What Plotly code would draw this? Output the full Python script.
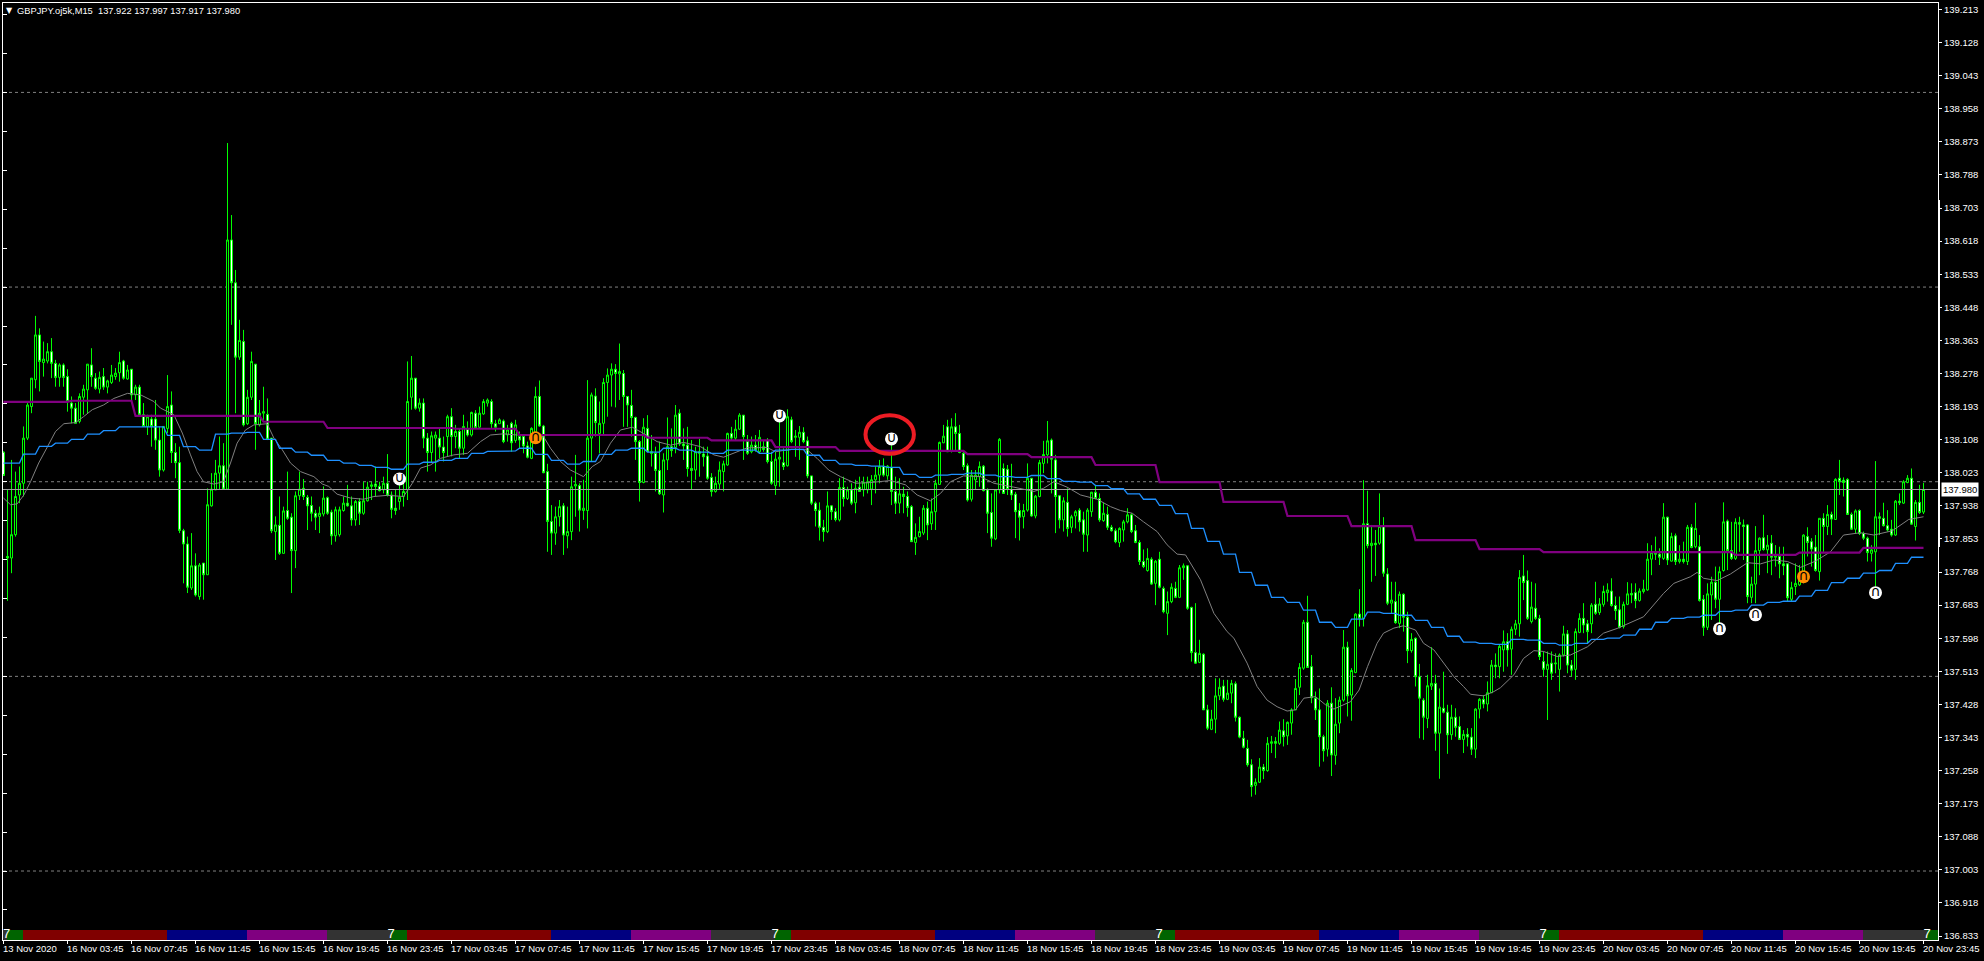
import plotly.graph_objects as go

# GBPJPY M15, 481 bars
opens = [
138.076,137.808,137.804,137.864,137.966,137.996,138.112,138.193,138.262,138.377,
138.306,138.310,138.334,138.304,138.268,138.300,138.270,138.202,138.189,138.155,
138.217,138.236,138.300,138.266,138.238,138.270,138.243,138.255,138.270,138.280,
138.310,138.264,138.289,138.223,138.243,138.172,138.142,138.161,138.161,138.107,
138.030,138.137,138.197,138.075,138.049,137.874,137.840,137.727,137.784,137.705,
137.791,137.761,137.938,137.979,138.022,138.041,137.981,138.621,138.511,138.320,
138.360,138.149,138.217,138.302,138.146,138.176,138.173,138.112,137.872,137.888,
137.816,137.926,137.909,137.823,137.964,137.983,137.960,137.939,137.919,137.911,
137.917,137.959,137.922,137.861,137.864,137.926,137.945,137.938,137.902,137.949,
137.919,137.951,137.988,137.994,137.988,137.979,137.996,137.966,137.932,137.949,
137.962,137.979,138.217,138.266,138.189,138.202,138.112,138.075,138.112,138.112,
138.089,138.116,138.167,138.116,138.129,138.086,138.135,138.120,138.176,138.140,
138.174,138.202,138.206,138.149,138.149,
# 125
138.156,138.120,138.150,138.106,138.116,138.116,138.092,138.060,138.112,138.219,
138.143,138.026,137.898,137.868,137.910,137.938,137.861,137.872,137.989,137.990,
137.926,137.926,138.112,138.220,138.124,138.150,138.255,138.274,138.289,138.277,
138.278,138.219,138.196,138.165,138.103,137.998,138.137,138.077,138.073,138.029,
137.966,138.056,138.090,138.088,138.176,138.097,138.094,138.034,138.030,138.077,
138.071,138.066,138.011,137.975,137.994,138.026,138.043,138.124,138.112,138.135,
138.171,138.103,138.077,138.094,138.077,138.090,138.106,138.052,137.990,138.058,
138.049,138.041,138.159,138.114,138.114,138.127,138.105,138.015,137.945,137.927,
137.883,137.872,137.938,137.923,137.902,137.985,137.957,137.979,137.946,137.986,
137.979,137.979,137.981,138.005,138.017,138.039,138.015,138.036,137.975,137.945,
137.968,137.962,137.936,137.844,137.859,137.868,137.932,137.892,137.923,137.993,
138.100,138.141,138.080,138.141,138.124,138.073,138.041,137.955,138.005,138.013,
138.040,137.979,137.921,137.853,137.979,
# 250
138.034,138.032,137.980,137.968,137.926,137.910,137.927,138.009,137.912,137.962,
138.047,138.069,138.107,138.056,137.964,137.902,137.947,137.883,137.912,137.927,
137.902,137.863,137.923,137.973,137.957,137.900,137.916,137.883,137.874,137.844,
137.876,137.897,137.915,137.874,137.844,137.795,137.772,137.801,137.739,137.801,
137.726,137.662,137.692,137.726,137.703,137.779,137.784,137.677,137.561,137.536,
137.557,137.414,137.364,137.390,137.450,137.475,137.441,137.457,137.481,137.395,
137.341,137.315,137.273,137.220,137.228,137.267,137.258,137.328,137.333,137.328,
137.360,137.347,137.380,137.414,137.472,137.521,137.639,137.525,137.444,137.414,
137.345,137.313,137.431,137.297,137.380,137.439,137.575,137.452,137.510,137.660,
137.648,137.892,137.836,137.842,137.842,137.885,137.763,137.688,137.692,137.636,
137.711,137.652,137.566,137.598,137.499,137.439,137.392,137.475,137.482,137.354,
137.418,137.408,137.350,137.395,137.371,137.338,137.351,137.344,137.313,137.416,
137.441,137.429,137.458,137.529,137.525,
# 375
137.568,137.589,137.570,137.621,137.635,137.758,137.746,137.641,137.675,137.649,
137.538,137.518,137.534,137.532,137.518,137.555,137.609,137.529,137.518,137.613,
137.649,137.635,137.635,137.685,137.664,137.685,137.715,137.719,137.682,137.671,
137.628,137.685,137.713,137.715,137.695,137.718,137.722,137.801,137.818,137.814,
137.803,137.909,137.796,137.861,137.795,137.801,137.795,137.883,137.833,137.833,
137.698,137.626,137.709,137.742,137.698,137.772,137.899,137.823,137.803,137.895,
137.889,137.889,137.703,137.737,137.823,137.856,137.825,137.842,137.806,137.808,
137.789,137.789,137.698,137.731,137.735,137.760,137.859,137.846,137.832,137.769,
137.906,137.885,137.916,137.903,138.009,138.004,138.006,137.916,137.878,137.926,
137.867,137.855,137.816,137.820,137.910,137.906,137.887,137.878,137.863,137.950,
137.945,137.998,138.009,137.885,137.947,137.922]
highs = [
138.078,137.979,138.056,138.026,138.039,138.142,138.202,138.266,138.426,138.394,
138.360,138.356,138.369,138.313,138.304,138.304,138.289,138.219,138.202,138.227,
138.249,138.302,138.343,138.279,138.283,138.292,138.262,138.300,138.292,138.334,
138.313,138.300,138.289,138.249,138.249,138.202,138.172,138.172,138.210,138.142,
138.142,138.274,138.232,138.099,138.090,137.879,137.859,137.868,137.816,137.791,
137.791,137.983,138.022,138.056,138.116,138.099,138.870,138.685,138.544,138.416,
138.390,138.236,138.334,138.302,138.210,138.244,138.214,138.112,137.911,137.962,
137.936,138.026,137.919,137.975,138.026,138.007,137.966,137.962,137.928,137.936,
137.988,137.962,137.928,137.936,137.936,137.962,137.992,137.962,137.953,137.958,
138.000,138.000,138.000,138.039,138.000,138.013,138.071,137.975,137.979,138.000,
138.000,138.309,138.323,138.266,138.214,138.214,138.125,138.129,138.129,138.137,
138.116,138.172,138.189,138.146,138.137,138.172,138.155,138.180,138.184,138.193,
138.212,138.214,138.212,138.159,138.163,
# 125
138.160,138.146,138.154,138.159,138.129,138.120,138.103,138.140,138.244,138.260,
138.146,138.046,137.940,137.936,137.953,137.945,137.936,138.013,138.069,137.996,
138.005,138.261,138.229,138.240,138.206,138.266,138.291,138.304,138.302,138.355,
138.287,138.219,138.236,138.167,138.107,138.163,138.171,138.120,138.090,138.103,
138.073,138.165,138.137,138.197,138.186,138.137,138.141,138.107,138.090,138.110,
138.090,138.090,138.022,138.013,138.052,138.054,138.126,138.141,138.159,138.176,
138.171,138.120,138.116,138.120,138.133,138.107,138.112,138.077,138.077,138.154,
138.086,138.186,138.167,138.133,138.143,138.140,138.116,138.015,137.949,137.947,
137.902,137.975,137.940,137.932,138.009,138.013,137.987,137.996,138.005,138.013,
138.013,138.013,138.017,138.039,138.056,138.060,138.043,138.094,138.013,138.009,
137.987,137.975,137.940,137.893,137.910,137.940,137.949,137.957,138.005,138.103,
138.146,138.159,138.163,138.176,138.146,138.077,138.047,138.030,138.030,138.052,
138.043,137.983,137.970,137.979,138.112,
# 250
138.047,138.043,138.046,137.974,137.945,137.943,138.047,138.009,137.966,138.056,
138.105,138.156,138.111,138.069,137.966,137.960,137.983,137.915,137.927,137.932,
137.923,137.932,137.974,137.992,137.970,137.946,137.936,137.889,137.880,137.883,
137.902,137.932,137.919,137.889,137.850,137.826,137.829,137.806,137.799,137.820,
137.731,137.718,137.739,137.743,137.786,137.790,137.786,137.679,137.688,137.594,
137.559,137.427,137.414,137.495,137.495,137.491,137.491,137.491,137.487,137.397,
137.360,137.337,137.287,137.238,137.290,137.275,137.344,137.347,137.344,137.384,
137.390,137.384,137.418,137.493,137.534,137.645,137.707,137.555,137.461,137.469,
137.350,137.439,137.472,137.444,137.448,137.619,137.589,137.521,137.662,137.724,
138.004,137.977,137.889,137.876,137.970,137.909,137.778,137.743,137.743,137.718,
137.713,137.666,137.611,137.600,137.532,137.444,137.504,137.575,137.504,137.469,
137.512,137.427,137.427,137.418,137.397,137.362,137.367,137.367,137.418,137.444,
137.452,137.487,137.542,137.559,137.581,
# 375
137.618,137.611,137.628,137.645,137.773,137.812,137.772,137.743,137.739,137.658,
137.564,137.564,137.564,137.559,137.559,137.630,137.619,137.542,137.623,137.662,
137.688,137.645,137.688,137.743,137.701,137.733,137.739,137.752,137.705,137.705,
137.692,137.742,137.739,137.739,137.726,137.748,137.842,137.837,137.859,137.829,
137.945,137.910,137.869,137.867,137.837,137.846,137.889,137.891,137.946,137.863,
137.709,137.739,137.756,137.782,137.782,137.947,137.903,137.897,137.906,137.910,
137.903,137.891,137.756,137.886,137.857,137.915,137.863,137.863,137.837,137.833,
137.833,137.790,137.743,137.790,137.786,137.865,137.883,137.855,137.863,137.906,
137.919,137.940,137.923,138.009,138.056,138.011,138.009,137.921,137.929,137.929,
137.872,137.859,137.837,138.053,137.921,137.946,137.927,137.902,137.953,137.970,
138.004,138.017,138.034,137.953,137.992,137.997]
lows = [
138.016,137.694,137.765,137.859,137.945,137.962,138.107,138.176,138.240,138.232,
138.270,138.304,138.266,138.244,138.244,138.244,138.180,138.150,138.150,138.150,
138.172,138.176,138.244,138.236,138.227,138.236,138.227,138.251,138.262,138.257,
138.262,138.262,138.210,138.210,138.167,138.142,138.120,138.090,138.082,138.013,
138.026,138.125,138.048,138.009,137.868,137.739,137.714,137.722,137.705,137.697,
137.697,137.761,137.936,137.979,137.979,137.979,137.979,138.403,138.176,138.313,
138.142,138.146,138.210,138.082,138.142,138.159,138.107,137.868,137.799,137.812,
137.816,137.902,137.714,137.778,137.953,137.953,137.876,137.898,137.876,137.868,
137.911,137.915,137.838,137.846,137.859,137.923,137.936,137.887,137.887,137.889,
137.915,137.949,137.953,137.962,137.975,137.970,137.962,137.906,137.915,137.928,
137.936,137.953,138.185,138.185,138.180,138.086,138.026,138.048,138.026,138.060,
138.052,138.065,138.065,138.086,138.060,138.069,138.116,138.116,138.137,138.137,
138.172,138.193,138.137,138.129,138.149,
# 125
138.099,138.103,138.077,138.100,138.086,138.073,138.060,138.058,138.099,138.141,
138.022,137.820,137.812,137.838,137.885,137.812,137.829,137.850,137.910,137.872,
137.902,137.880,138.052,138.116,138.073,138.120,138.167,138.193,138.191,138.210,
138.141,138.141,138.116,138.056,137.949,137.996,138.077,138.039,137.975,137.966,
137.921,138.030,138.064,138.073,138.092,138.056,138.013,137.981,138.005,138.013,
138.039,138.005,137.962,137.972,137.979,137.975,138.041,138.107,138.107,138.133,
138.056,138.069,138.073,138.077,138.073,138.077,138.047,137.992,137.966,137.987,
138.030,138.039,138.099,138.064,138.056,138.099,138.009,137.940,137.885,137.849,
137.846,137.868,137.902,137.898,137.898,137.936,137.953,137.940,137.919,137.975,
137.962,137.970,137.940,137.970,137.996,138.013,138.005,137.940,137.917,137.919,
137.919,137.910,137.846,137.812,137.857,137.863,137.850,137.876,137.876,137.992,
138.099,138.077,138.075,138.077,138.073,138.030,137.949,137.949,137.979,137.987,
137.975,137.868,137.833,137.850,137.970,
# 250
137.970,137.966,137.953,137.855,137.849,137.880,137.923,137.910,137.906,137.960,
138.022,138.047,137.970,137.868,137.880,137.872,137.859,137.868,137.880,137.872,
137.820,137.820,137.910,137.955,137.897,137.897,137.876,137.872,137.842,137.832,
137.846,137.893,137.868,137.842,137.786,137.778,137.769,137.735,137.683,137.726,
137.662,137.606,137.688,137.701,137.701,137.748,137.671,137.538,137.532,137.534,
137.414,137.362,137.362,137.354,137.439,137.435,137.439,137.431,137.384,137.341,
137.315,137.268,137.191,137.196,137.226,137.236,137.255,137.303,137.290,137.324,
137.320,137.324,137.350,137.414,137.452,137.517,137.523,137.431,137.388,137.268,
137.281,137.294,137.244,137.273,137.354,137.435,137.397,137.386,137.508,137.628,
137.628,137.829,137.743,137.758,137.838,137.756,137.683,137.662,137.635,137.624,
137.615,137.534,137.561,137.474,137.341,137.337,137.367,137.465,137.309,137.237,
137.405,137.301,137.337,137.345,137.337,137.303,137.320,137.298,137.290,137.392,
137.418,137.410,137.457,137.495,137.495,
# 375
137.512,137.525,137.504,137.606,137.602,137.696,137.645,137.636,137.645,137.542,
137.499,137.388,137.491,137.508,137.461,137.551,137.508,137.499,137.491,137.611,
137.611,137.585,137.611,137.658,137.658,137.679,137.692,137.679,137.645,137.623,
137.623,137.683,137.688,137.675,137.692,137.713,137.720,137.760,137.799,137.786,
137.799,137.786,137.795,137.786,137.790,137.790,137.786,137.829,137.829,137.692,
137.604,137.619,137.645,137.675,137.628,137.769,137.773,137.799,137.799,137.820,
137.799,137.688,137.688,137.688,137.760,137.823,137.765,137.760,137.782,137.752,
137.760,137.692,137.692,137.709,137.732,137.739,137.808,137.782,137.769,137.746,
137.820,137.863,137.863,137.902,137.966,137.962,137.915,137.876,137.867,137.863,
137.850,137.795,137.795,137.731,137.863,137.885,137.872,137.859,137.861,137.940,
137.943,137.996,137.889,137.849,137.917,137.917]
closes = [
138.016,137.804,137.864,137.962,137.996,138.112,138.197,138.266,138.377,138.309,
138.315,138.334,138.304,138.268,138.300,138.268,138.206,138.189,138.150,138.219,
138.238,138.302,138.270,138.240,138.268,138.243,138.259,138.274,138.279,138.306,
138.266,138.287,138.223,138.243,138.172,138.142,138.167,138.142,138.107,138.030,
138.142,138.193,138.075,138.049,137.875,137.840,137.729,137.784,137.709,137.786,
137.761,137.941,137.981,138.022,138.041,137.981,138.621,138.511,138.320,138.363,
138.146,138.217,138.309,138.149,138.176,138.180,138.109,137.874,137.889,137.816,
137.925,137.906,137.823,137.964,137.981,137.962,137.938,137.919,137.909,137.919,
137.958,137.919,137.861,137.928,137.928,137.945,137.938,137.902,137.949,137.919,
137.951,137.986,137.992,137.988,137.977,137.996,137.966,137.929,137.926,137.960,
137.975,138.206,138.266,138.189,138.202,138.112,138.075,138.118,138.120,138.089,
138.075,138.167,138.116,138.129,138.086,138.142,138.120,138.178,138.139,138.176,
138.206,138.210,138.149,138.140,138.159,
# 125
138.103,138.133,138.100,138.146,138.107,138.092,138.063,138.137,138.219,138.143,
138.023,137.898,137.868,137.910,137.936,137.863,137.872,137.987,137.993,137.927,
137.932,138.112,138.223,138.152,138.150,138.255,138.274,138.289,138.278,138.283,
138.219,138.197,138.165,138.103,137.998,138.140,138.077,138.073,138.029,137.969,
138.056,138.090,138.080,138.171,138.097,138.092,138.034,138.029,138.077,138.073,
138.064,138.009,137.975,137.996,138.030,138.046,138.124,138.112,138.135,138.171,
138.116,138.073,138.094,138.082,138.114,138.083,138.052,137.996,138.058,138.063,
138.039,138.167,138.103,138.117,138.127,138.103,138.015,137.945,137.926,137.883,
137.872,137.938,137.923,137.903,137.985,137.957,137.979,137.945,137.983,137.975,
137.999,138.000,138.005,138.017,138.039,138.017,138.040,137.975,137.945,137.969,
137.962,137.934,137.846,137.857,137.872,137.932,137.889,137.923,137.996,138.101,
138.117,138.077,138.141,138.124,138.075,138.039,137.953,138.017,138.017,138.039,
137.977,137.919,137.855,137.979,138.109,
# 250
137.970,137.980,137.966,137.923,137.909,137.926,138.009,137.912,137.963,138.049,
138.070,138.105,138.058,137.962,137.902,137.951,137.880,137.910,137.923,137.897,
137.865,137.927,137.973,137.957,137.902,137.919,137.883,137.874,137.846,137.880,
137.897,137.915,137.872,137.844,137.795,137.782,137.803,137.737,137.796,137.729,
137.666,137.692,137.729,137.703,137.779,137.784,137.675,137.561,137.534,137.559,
137.414,137.367,137.390,137.450,137.472,137.441,137.457,137.482,137.395,137.344,
137.318,137.273,137.217,137.228,137.267,137.258,137.328,137.332,137.328,137.362,
137.345,137.382,137.414,137.469,137.523,137.639,137.523,137.445,137.414,137.345,
137.309,137.431,137.298,137.377,137.439,137.575,137.450,137.515,137.660,137.649,
137.892,137.836,137.842,137.838,137.885,137.765,137.688,137.696,137.638,137.711,
137.652,137.566,137.595,137.499,137.444,137.395,137.476,137.482,137.354,137.421,
137.408,137.350,137.395,137.369,137.338,137.351,137.344,137.313,137.416,137.441,
137.429,137.458,137.529,137.525,137.577,
# 375
137.589,137.568,137.621,137.635,137.754,137.741,137.649,137.678,137.649,137.551,
137.518,137.531,137.508,137.534,137.555,137.609,137.529,137.516,137.615,137.649,
137.632,137.615,137.683,137.662,137.686,137.718,137.722,137.682,137.669,137.626,
137.685,137.712,137.709,137.695,137.719,137.724,137.801,137.818,137.814,137.806,
137.909,137.799,137.859,137.795,137.801,137.795,137.883,137.831,137.880,137.695,
137.626,137.712,137.742,137.698,137.769,137.897,137.823,137.803,137.896,137.891,
137.885,137.705,137.737,137.823,137.855,137.826,137.837,137.806,137.809,137.789,
137.784,137.702,137.728,137.739,137.759,137.863,137.844,137.827,137.772,137.906,
137.885,137.916,137.904,138.006,138.000,137.998,137.916,137.878,137.925,137.867,
137.855,137.818,137.825,137.910,137.906,137.887,137.876,137.863,137.950,137.946,
138.000,138.009,137.891,137.947,137.921,137.980]

level_lines = [139.0, 138.5, 138.0, 137.5, 137.0]
last_price = 137.98

# stepped bands: one level per 16 bars and one per 4 bars
purple_levels = [138.205, 138.208, 138.169, 138.169, 138.154, 138.138, 138.138, 138.136,
                 138.120, 138.120, 138.113, 138.106, 138.089, 138.079, 138.079, 138.071,
                 138.063, 138.043, 137.999, 137.948, 137.912, 137.886, 137.850, 137.827,
                 137.819, 137.819, 137.819, 137.812, 137.818, 137.830]
blue_levels = [138.048, 138.071, 138.091, 138.099, 138.109, 138.122, 138.131, 138.141,
               138.141, 138.141, 138.119, 138.090, 138.081, 138.122, 138.125, 138.127,
               138.109, 138.086, 138.076, 138.068, 138.055, 138.048, 138.042, 138.037,
               138.032, 138.045, 138.050, 138.055, 138.060, 138.073, 138.078,
               138.079, 138.086, 138.070, 138.055, 138.045, 138.052, 138.070, 138.081,
               138.086, 138.076, 138.086, 138.081, 138.076, 138.073, 138.081, 138.081,
               138.073, 138.081, 138.083, 138.068, 138.055, 138.045, 138.042, 138.040,
               138.037, 138.019, 138.011, 138.017, 138.019, 138.022, 138.017,
               138.013, 138.011, 138.016, 138.008, 138.001, 137.999, 137.990, 137.982,
               137.969, 137.955, 137.939, 137.918, 137.880, 137.847, 137.814, 137.767,
               137.734, 137.703, 137.690, 137.670, 137.639, 137.626, 137.647, 137.665,
               137.662, 137.657, 137.644, 137.626, 137.603, 137.588, 137.585, 137.582,
               137.595, 137.593, 137.585, 137.580, 137.585, 137.595, 137.598, 137.606,
               137.621, 137.639, 137.649, 137.652, 137.657, 137.667, 137.670, 137.683,
               137.690, 137.693, 137.706, 137.721, 137.741, 137.752, 137.765, 137.772,
               137.790, 137.806]

# slow moving average, read at the bends
ma_bars = [0, 1.75, 3.4, 5.1, 6.75, 8.8, 11, 13, 15.1, 18, 20, 22.2, 25, 27.6, 31, 34.3, 37.6, 39.25,
           42.6, 44.7, 46.75, 48.4, 50, 52.6, 55, 56.75, 58.4, 60.5, 62.6, 65.9, 67.6, 69.7, 71.75,
           74.25, 77.6, 79.7, 81.3, 83.4, 86.75, 90, 92.6, 96, 100, 102.2, 104.25, 106.75, 109.25,
           112.6, 116, 119.25, 121.75, 125, 128.4, 132.6, 135, 136.75, 139.25, 141.75, 145, 147.2,
           149.25, 151.75, 154.25, 157.2, 160, 163.4, 166.75, 170, 174.25, 177.6, 180, 182.6, 185.9,
           190.9, 193, 196.75, 200.9, 203.4, 206.3, 209.25, 213, 216.75, 221.75, 225.5, 228.4, 231.75,
           234.25, 236.75, 240, 244.25, 247.6, 252.6, 257.6, 260, 262.6, 265.9, 269.25, 273.4, 276.75,
           279.25, 282.2, 285, 288.4, 290.9, 293.4, 295.5, 299.25, 302.6, 305.9, 307.6, 310.9, 313.4,
           315.9, 318.4, 320.9, 323, 325.1, 328, 330.5, 332.6, 336.75, 338.9, 341, 343.4, 345, 347.6,
           350, 353, 355, 357.6, 360, 362.6, 365, 366.75, 370, 372.6, 374.25, 377.6, 380, 382.6, 385,
           388.4, 391.75, 396, 400, 403.4, 410, 415, 417.6, 421.75, 423.4, 425, 428.4, 431.75, 436,
           439.25, 442.6, 446, 449.25, 453, 456.75, 460, 464.25, 467.6, 472.2, 476.3, 480]
ma_prices = [137.958, 137.941, 137.943, 137.966, 138.000, 138.048, 138.090, 138.129, 138.149, 138.152,
             138.167, 138.185, 138.197, 138.214, 138.227, 138.223, 138.206, 138.189, 138.172, 138.125,
             138.069, 138.026, 138.000, 137.994, 138.000, 138.048, 138.099, 138.133, 138.146, 138.149,
             138.112, 138.082, 138.048, 138.026, 138.013, 137.994, 137.988, 137.968, 137.958, 137.955,
             137.962, 137.965, 137.962, 137.996, 138.035, 138.043, 138.060, 138.069, 138.073, 138.103,
             138.120, 138.123, 138.120, 138.120, 138.116, 138.086, 138.052, 138.030, 138.013, 138.039,
             138.052, 138.099, 138.133, 138.140, 138.124, 138.103, 138.094, 138.101, 138.090, 138.069,
             138.063, 138.073, 138.087, 138.088, 138.077, 138.083, 138.082, 138.060, 138.030, 138.013,
             137.996, 137.998, 138.003, 137.992, 137.966, 137.951, 137.970, 138.000, 138.015, 138.013,
             137.996, 137.986, 137.975, 137.983, 138.000, 137.986, 137.966, 137.955, 137.936, 137.926,
             137.919, 137.897, 137.872, 137.838, 137.814, 137.812, 137.748, 137.662, 137.615, 137.598,
             137.534, 137.474, 137.439, 137.422, 137.411, 137.414, 137.444, 137.448, 137.427, 137.416,
             137.435, 137.465, 137.525, 137.585, 137.611, 137.624, 137.630, 137.619, 137.585, 137.568,
             137.534, 137.499, 137.474, 137.454, 137.450, 137.461, 137.471, 137.504, 137.546, 137.566,
             137.564, 137.551, 137.555, 137.576, 137.611, 137.623, 137.653, 137.713, 137.739, 137.756,
             137.767, 137.752, 137.746, 137.763, 137.792, 137.789, 137.799, 137.795, 137.780, 137.796,
             137.820, 137.863, 137.869, 137.863, 137.874, 137.903, 137.910]

# arrow signals on the chart
white_down_bars = [99, 194, 222]
white_down_prices = [138.007, 138.169, 138.110]
white_up_bars = [429, 438, 468]
white_up_prices = [137.622, 137.658, 137.715]
orange_bars = [133, 450]
orange_prices = [138.113, 137.756]

# session strip along the bottom
session_edges = [-0.1, 0.9, 4.9, 40.9, 60.9, 80.9, 96.9, 100.9, 136.9, 156.9, 176.9, 192.9, 196.9,
                 232.9, 252.9, 272.9, 288.9, 292.9, 328.9, 348.9, 368.9, 384.9, 388.9, 424.9,
                 444.9, 464.9, 480.9, 483.7]
session_colors = ["#333333", "#006400", "#800000", "#000080", "#800080"] * 5 + ["#333333", "#006400"]
seven_bars = [0.8, 96.9, 192.9, 288.9, 384.9, 480.9]

tick_bars = list(range(0, 481, 16))
tick_labels = ["13 Nov 2020",
               "16 Nov 03:45", "16 Nov 07:45", "16 Nov 11:45", "16 Nov 15:45", "16 Nov 19:45", "16 Nov 23:45",
               "17 Nov 03:45", "17 Nov 07:45", "17 Nov 11:45", "17 Nov 15:45", "17 Nov 19:45", "17 Nov 23:45",
               "18 Nov 03:45", "18 Nov 07:45", "18 Nov 11:45", "18 Nov 15:45", "18 Nov 19:45", "18 Nov 23:45",
               "19 Nov 03:45", "19 Nov 07:45", "19 Nov 11:45", "19 Nov 15:45", "19 Nov 19:45", "19 Nov 23:45",
               "20 Nov 03:45", "20 Nov 07:45", "20 Nov 11:45", "20 Nov 15:45", "20 Nov 19:45", "20 Nov 23:45"]
price_ticks = [139.213, 139.128, 139.043, 138.958, 138.873, 138.788, 138.703, 138.618, 138.533, 138.448,
               138.363, 138.278, 138.193, 138.108, 138.023, 137.938, 137.853, 137.768, 137.683, 137.598,
               137.513, 137.428, 137.343, 137.258, 137.173, 137.088, 137.003, 136.918, 136.833]
left_ticks = [139.2, 139.1, 139.0, 138.9, 138.8, 138.7, 138.6, 138.5, 138.4, 138.3, 138.2, 138.1, 138.0,
              137.9, 137.8, 137.7, 137.6, 137.5, 137.4, 137.3, 137.2, 137.1, 137.0, 136.9]

W, H = 1984, 961
M_L, M_R, M_T, M_B = 3, 46, 3, 21
PLOT_W, PLOT_H = W - M_L - M_R, H - M_T - M_B
Y_TOP, Y_BOT = 139.2297, 136.8228
# 4 px per bar, with the wicks landing on whole pixel columns
X_MIN, X_MAX = -0.125, 483.625
FONT = "Liberation Sans"
LIME = "#00FF00"

bars = list(range(len(closes)))
purple = [purple_levels[max(i - 1, 0) // 16] for i in bars]
blue = [blue_levels[max(i - 1, 0) // 4] for i in bars]

fig = go.Figure()

fig.add_trace(go.Bar(
    x=[(a + b) / 2 for a, b in zip(session_edges[:-1], session_edges[1:])],
    width=[b - a for a, b in zip(session_edges[:-1], session_edges[1:])],
    y=[0.0257] * len(session_colors),
    base=Y_BOT,
    marker=dict(color=session_colors, line=dict(width=0)),
    hoverinfo="skip",
))

fig.add_trace(go.Candlestick(
    x=bars, open=opens, high=highs, low=lows, close=closes,
    increasing=dict(line=dict(color=LIME, width=1), fillcolor="#000000"),
    decreasing=dict(line=dict(color=LIME, width=1), fillcolor="#FFFFFF"),
    whiskerwidth=0,
    line=dict(width=1),
))

fig.add_trace(go.Scatter(x=[X_MIN, X_MAX], y=[last_price, last_price], mode="lines",
                         line=dict(color="#A0A0A0", width=1), hoverinfo="skip"))
fig.add_trace(go.Scatter(x=ma_bars, y=ma_prices, mode="lines", line=dict(color="#808080", width=1)))
fig.add_trace(go.Scatter(x=bars, y=blue, mode="lines", line=dict(color="#1E90FF", width=1.3)))
fig.add_trace(go.Scatter(x=bars, y=purple, mode="lines", line=dict(color="#800080", width=2.2)))

# signal discs, glyph drawn on top of the disc
for xs, ys, disc, glyph in [(white_down_bars, white_down_prices, "#FFFFFF", "∪"),
                            (white_up_bars, white_up_prices, "#FFFFFF", "∩"),
                            (orange_bars, orange_prices, "#FF8C00", "∩")]:
    fig.add_trace(go.Scatter(
        x=xs, y=ys, mode="markers+text", text=[glyph] * len(xs), textposition="middle center",
        textfont=dict(family="DejaVu Sans", size=14, color="#000000"),
        marker=dict(color=disc, size=13, line=dict(width=0)),
    ))

fig.add_trace(go.Scatter(
    x=seven_bars, y=[136.836] * len(seven_bars), mode="text", text=["7"] * len(seven_bars),
    textposition="middle center", textfont=dict(family=FONT, size=13, color="#FFFFFF"),
))

# dashed round-number levels
for lvl in level_lines:
    fig.add_shape(type="line", xref="paper", yref="y", x0=0, x1=1, y0=lvl, y1=lvl, layer="below",
                  line=dict(color="#808080", width=1, dash="3px,3px"))

# hand drawn red ellipse round the signal
fig.add_shape(type="circle", xref="x", yref="y", x0=215.5, x1=227.6, y0=138.072, y1=138.1706,
              line=dict(color="#ED1C24", width=4))

# thick stretch of the right border
fig.add_shape(type="rect", xref="paper", yref="paper", x0=1, x1=1 + 2 / PLOT_W,
              y0=(940 - 547) / PLOT_H, y1=(940 - 200) / PLOT_H,
              fillcolor="#FFFFFF", line=dict(width=0))

# time labels start at their tick, not centred on it
for b, lab in zip(tick_bars, tick_labels):
    fig.add_annotation(x=b, y=-0.0096, xref="x", yref="paper", text=lab, showarrow=False,
                       xanchor="left", yanchor="middle", xshift=-3,
                       font=dict(family=FONT, size=9.5, color="#FFFFFF"))

fig.add_annotation(x=1, y=last_price, xref="paper", yref="y", text="137.980", showarrow=False,
                   xanchor="left", yanchor="middle", xshift=3, bgcolor="#FFFFFF", borderpad=1,
                   font=dict(family=FONT, size=9.5, color="#000000"))
fig.add_annotation(x=12 / PLOT_W, y=1 - 7.5 / PLOT_H, xref="paper", yref="paper",
                   text="GBPJPY.oj5k,M15  137.922 137.997 137.917 137.980", showarrow=False,
                   xanchor="left", yanchor="middle",
                   font=dict(family=FONT, size=9.3, color="#FFFFFF"))
fig.add_annotation(x=6.5 / PLOT_W, y=1 - 7.5 / PLOT_H, xref="paper", yref="paper",
                   text="▼", showarrow=False, xanchor="center", yanchor="middle",
                   font=dict(family="DejaVu Sans", size=8, color="#FFFFFF"))

fig.update_layout(
    width=W, height=H,
    margin=dict(l=M_L, r=M_R, t=M_T, b=M_B),
    paper_bgcolor="#000000", plot_bgcolor="#000000",
    showlegend=False,
    bargap=0,
    boxgap=0.3, boxgroupgap=0.2857,
    xaxis=dict(
        range=[X_MIN, X_MAX], rangeslider=dict(visible=False), showgrid=False, zeroline=False,
        showline=True, mirror=True, linecolor="#FFFFFF", linewidth=1,
        tickmode="array", tickvals=tick_bars, ticktext=[""] * len(tick_bars),
        ticks="outside", ticklen=3, tickcolor="#FFFFFF",
    ),
    yaxis=dict(
        range=[Y_BOT, Y_TOP], side="right", showgrid=False, zeroline=False,
        showline=True, mirror=True, linecolor="#FFFFFF", linewidth=1,
        tickmode="array", tickvals=price_ticks, ticktext=[f"{p:.3f}" for p in price_ticks],
        ticks="outside", ticklen=3, tickcolor="#FFFFFF",
        tickfont=dict(family=FONT, size=9.5, color="#FFFFFF"),
    ),
    yaxis2=dict(
        range=[Y_BOT, Y_TOP], overlaying="y", side="left", showgrid=False, zeroline=False,
        tickmode="array", tickvals=left_ticks, ticktext=[""] * len(left_ticks),
        ticks="inside", ticklen=4, tickcolor="#FFFFFF",
    ),
)
# a dummy trace so the left tick axis is drawn
fig.add_trace(go.Scatter(x=[0], y=[Y_BOT], yaxis="y2", mode="markers", marker=dict(size=1, color="#000000"),
                         hoverinfo="skip"))

fig.write_html("out.html", config=dict(displayModeBar=False),
               post_script="document.body.style.margin='0';document.body.style.background='#000';document.body.style.overflow='hidden';")
